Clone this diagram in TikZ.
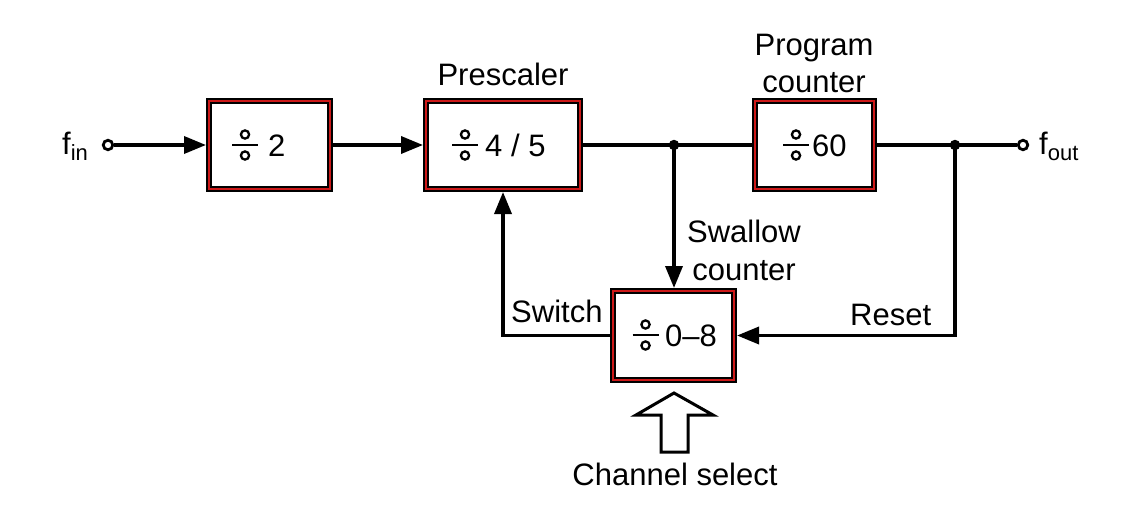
\documentclass[tikz,border=0pt]{standalone}
\usepackage{fontspec}
\setmainfont{Liberation Sans}
\usetikzlibrary{arrows.meta}
\definecolor{boxred}{RGB}{205,25,25}
\begin{document}
\begin{tikzpicture}[x=1pt,y=-1pt,
  blk/.style={draw=black, double=boxred, line width=1.7pt, double distance=2.6pt, inner sep=0pt, outer sep=3pt},
  wire/.style={line width=3.5pt},
  arr/.style={wire, -{Triangle[length=22pt,width=17pt]}},
  lbl/.style={font=\fontsize{31}{37}\selectfont, inner sep=0pt},
  port/.style={circle, draw, line width=2.8pt, inner sep=0pt, minimum size=9.5pt, fill=white},
  dot/.style={circle, fill, inner sep=0pt, minimum size=10.5pt},
  divsym/.pic={\draw[line width=2.4pt] (-13,0) -- (13,0);
               \draw[line width=2.3pt] (0,-10.5) circle[radius=4.1];
               \draw[line width=2.3pt] (0,10.5) circle[radius=4.1];}]
\useasboundingbox (0,0) rectangle (1134,516);
% blocks
\node[blk, minimum width=121pt, minimum height=88pt] (b1) at (269.5,145) {};
\node[blk, minimum width=154pt, minimum height=88pt] (b2) at (503,145) {};
\node[blk, minimum width=119pt, minimum height=88pt] (b3) at (814.5,145) {};
\node[blk, minimum width=121pt, minimum height=89pt] (b4) at (673.5,335.5) {};
% block contents
\pic at (245,145) {divsym};
\node[lbl, anchor=base west] (t1) at (268,156) {2};
\pic at (465,145) {divsym};
\node[lbl, anchor=base west] (t2) at (485,156) {4 / 5};
\pic at (796,145) {divsym};
\node[lbl, anchor=base west] (t3) at (812,156) {60};
\pic at (645.5,335) {divsym};
\node[lbl, anchor=base west] (t4) at (665,346) {0--8};
% ports and junctions
\node[port] (in) at (108,145) {};
\node[port] (out) at (1023,145) {};
\coordinate (j1) at (674,145);
\coordinate (j2) at (955,145);
% connectors
\draw[arr] (in) -- (b1);
\draw[arr] (b1) -- (b2);
\draw[wire] (b2) -- (j1) -- (b3);
\draw[wire] (b3) -- (j2) -- (out);
\draw[arr] (j1) -- (j1 |- b4.north);
\draw[arr] (j2) |- (b4.east);
\draw[arr] (b4.west) -| (b2.south);
\node[dot] (d1) at (j1) {};
\node[dot] (d2) at (j2) {};
% channel select hollow arrow
\draw[line width=3pt, line join=miter] (674,393) -- (713,415) -- (688,415) -- (688,452) -- (661,452) -- (661,415) -- (636,415) -- cycle;
% labels
\node[lbl, anchor=base west] (fin) at (62,154) {f\raisebox{-6pt}{\fontsize{22}{22}\selectfont in}};
\node[lbl, anchor=base west] (fout) at (1039,154) {f\raisebox{-6pt}{\fontsize{22}{22}\selectfont out}};
\node[lbl, anchor=base] (pre) at (503,86) {Prescaler};
\node[lbl, anchor=base] (pc1) at (814,56) {Program};
\node[lbl, anchor=base] (pc2) at (814,93) {counter};
\node[lbl, anchor=base] (sw1) at (744,242) {Swallow};
\node[lbl, anchor=base] (sw2) at (744,280) {counter};
\node[lbl, anchor=base west] (swt) at (511,322) {Switch};
\node[lbl, anchor=base west] (rst) at (850,325) {Reset};
\node[lbl, anchor=base] (chs) at (675,485) {Channel select};
\end{tikzpicture}
\end{document}
